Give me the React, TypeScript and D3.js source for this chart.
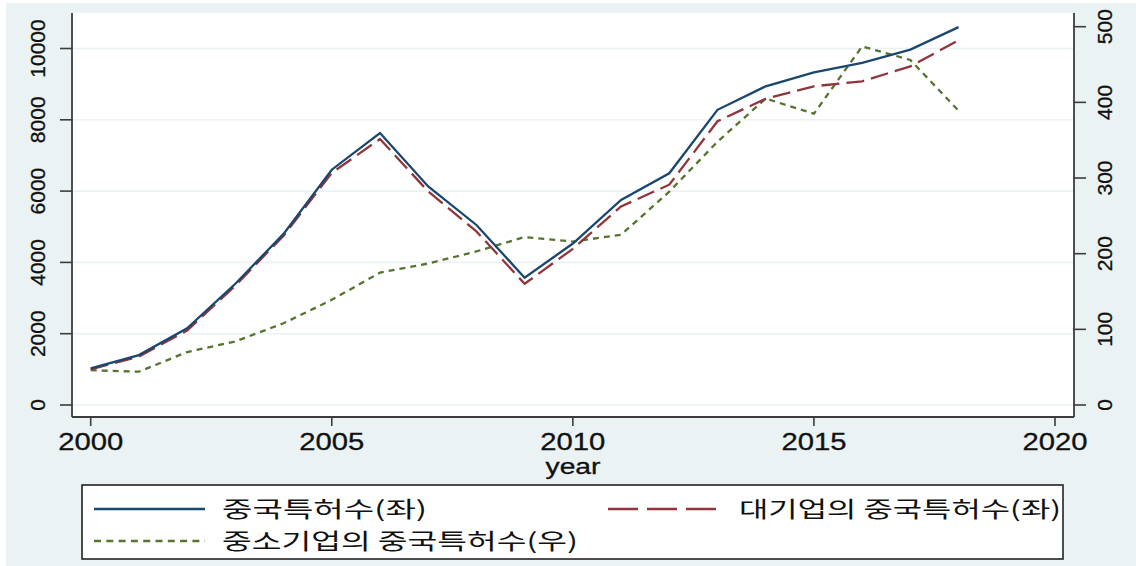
import React from 'react'
import * as d3 from 'd3'

// yearly values
const YEARS = [2000, 2001, 2002, 2003, 2004, 2005, 2006, 2007, 2008, 2009, 2010, 2011, 2012, 2013, 2014, 2015, 2016, 2017, 2018]
const TOTAL = [1030, 1400, 2150, 3400, 4800, 6600, 7630, 6130, 5050, 3570, 4530, 5750, 6500, 8280, 8940, 9330, 9600, 9970, 10600]
const LARGE = [1000, 1360, 2090, 3350, 4750, 6510, 7460, 5990, 4870, 3400, 4380, 5570, 6180, 7960, 8590, 8940, 9080, 9500, 10230]
const SME = [46, 44, 70, 84, 108, 139, 175, 187, 203, 222, 216, 225, 282, 348, 405, 385, 474, 456, 389]

const X_TICKS = [2000, 2005, 2010, 2015, 2020]
const LEFT_TICKS = [0, 2000, 4000, 6000, 8000, 10000]
const RIGHT_TICKS = [0, 100, 200, 300, 400, 500]

const LEGEND_LABELS = ['중국특허수(좌)', '대기업의 중국특허수(좌)', '중소기업의 중국특허수(우)']

const NAVY = '#1a476f'
const MAROON = '#90353b'
const GREEN = '#55752f'
const BG = '#eaf2f3'
const AXIS = '#3c3c3c'

export default function App() {
  const width = 1136
  const height = 566
  const plot = { left: 72, right: 1074, top: 13, bottom: 417 }

  const x = d3.scaleLinear().domain([2000, 2020]).range([90.7, 1055])
  const yL = d3.scaleLinear().domain([0, 10000]).range([405, 48.5])
  const yR = d3.scaleLinear().domain([0, 500]).range([405, 26.7])

  const lineL = d3.line<number>().x((_, i) => x(YEARS[i])).y(d => yL(d))
  const lineR = d3.line<number>().x((_, i) => x(YEARS[i])).y(d => yR(d))

  const num = "'Liberation Sans', Arial, sans-serif"
  const kr = "'Noto Sans CJK KR', sans-serif"

  return (
    <svg width={width} height={height} style={{ position: 'absolute', left: 0, top: 0 }}>
      <rect x={0} y={0} width={width} height={height} fill="#ffffff" />
      <rect x={6} y={3} width={width - 6} height={height - 3} fill={BG} />
      <rect x={plot.left} y={plot.top} width={plot.right - plot.left} height={plot.bottom - plot.top} fill="#ffffff" />

      {/* gridlines follow the left axis */}
      {LEFT_TICKS.map(t => (
        <line key={'g' + t} x1={plot.left} x2={plot.right} y1={yL(t)} y2={yL(t)} stroke={BG} strokeWidth={1.6} />
      ))}

      {/* series */}
      <path d={lineR(SME) || ''} fill="none" stroke={GREEN} strokeWidth={2.3} strokeDasharray="6 5" />
      <path d={lineL(LARGE) || ''} fill="none" stroke={MAROON} strokeWidth={2.3} strokeDasharray="18 7" />
      <path d={lineL(TOTAL) || ''} fill="none" stroke={NAVY} strokeWidth={2.3} />

      {/* axes */}
      <line x1={plot.left} x2={plot.left} y1={plot.top} y2={plot.bottom} stroke={AXIS} strokeWidth={1.8} />
      <line x1={plot.right} x2={plot.right} y1={plot.top} y2={plot.bottom} stroke={AXIS} strokeWidth={1.8} />
      <line x1={plot.left} x2={plot.right} y1={plot.bottom} y2={plot.bottom} stroke={AXIS} strokeWidth={1.8} />

      {LEFT_TICKS.map(t => (
        <g key={'l' + t}>
          <line x1={60} x2={plot.left} y1={yL(t)} y2={yL(t)} stroke={AXIS} strokeWidth={1.6} />
          <text transform={`translate(45,${yL(t)}) rotate(-90)`} textAnchor="middle" fontFamily={num} fontSize={21}
            fill="#111" stroke="#111" strokeWidth={0.3}>
            {t}
          </text>
        </g>
      ))}

      {RIGHT_TICKS.map(t => (
        <g key={'r' + t}>
          <line x1={plot.right} x2={1086} y1={yR(t)} y2={yR(t)} stroke={AXIS} strokeWidth={1.6} />
          <text transform={`translate(1112,${yR(t)}) rotate(-90)`} textAnchor="middle" fontFamily={num} fontSize={21}
            fill="#111" stroke="#111" strokeWidth={0.3}>
            {t}
          </text>
        </g>
      ))}

      {X_TICKS.map(t => (
        <g key={'x' + t}>
          <line x1={x(t)} x2={x(t)} y1={plot.bottom} y2={426} stroke={AXIS} strokeWidth={1.6} />
          <text x={x(t)} y={450} textAnchor="middle" fontFamily={num} fontSize={23} fill="#111"
            stroke="#111" strokeWidth={0.3} textLength={65} lengthAdjust="spacingAndGlyphs">
            {t}
          </text>
        </g>
      ))}
      <text x={573} y={474} textAnchor="middle" fontFamily={num} fontSize={22} fill="#111"
        stroke="#111" strokeWidth={0.3} textLength={55} lengthAdjust="spacingAndGlyphs">year</text>

      {/* legend */}
      <rect x={82} y={485} width={981} height={74} fill="#ffffff" stroke="#222" strokeWidth={1.6} />
      <line x1={94} x2={205} y1={509} y2={509} stroke={NAVY} strokeWidth={2.3} />
      <text x={222} y={517} fontFamily={kr} fontSize={22} fill="#111" textLength={205} lengthAdjust="spacingAndGlyphs">
        {LEGEND_LABELS[0]}
      </text>
      <line x1={608} x2={716} y1={509} y2={509} stroke={MAROON} strokeWidth={2.3} strokeDasharray="30 9" />
      <text x={739} y={517} fontFamily={kr} fontSize={22} fill="#111" textLength={322} lengthAdjust="spacingAndGlyphs">
        {LEGEND_LABELS[1]}
      </text>
      <line x1={94} x2={205} y1={541} y2={541} stroke={GREEN} strokeWidth={2.3} strokeDasharray="7 5.3" />
      <text x={222} y={549} fontFamily={kr} fontSize={22} fill="#111" textLength={356} lengthAdjust="spacingAndGlyphs">
        {LEGEND_LABELS[2]}
      </text>
    </svg>
  )
}
